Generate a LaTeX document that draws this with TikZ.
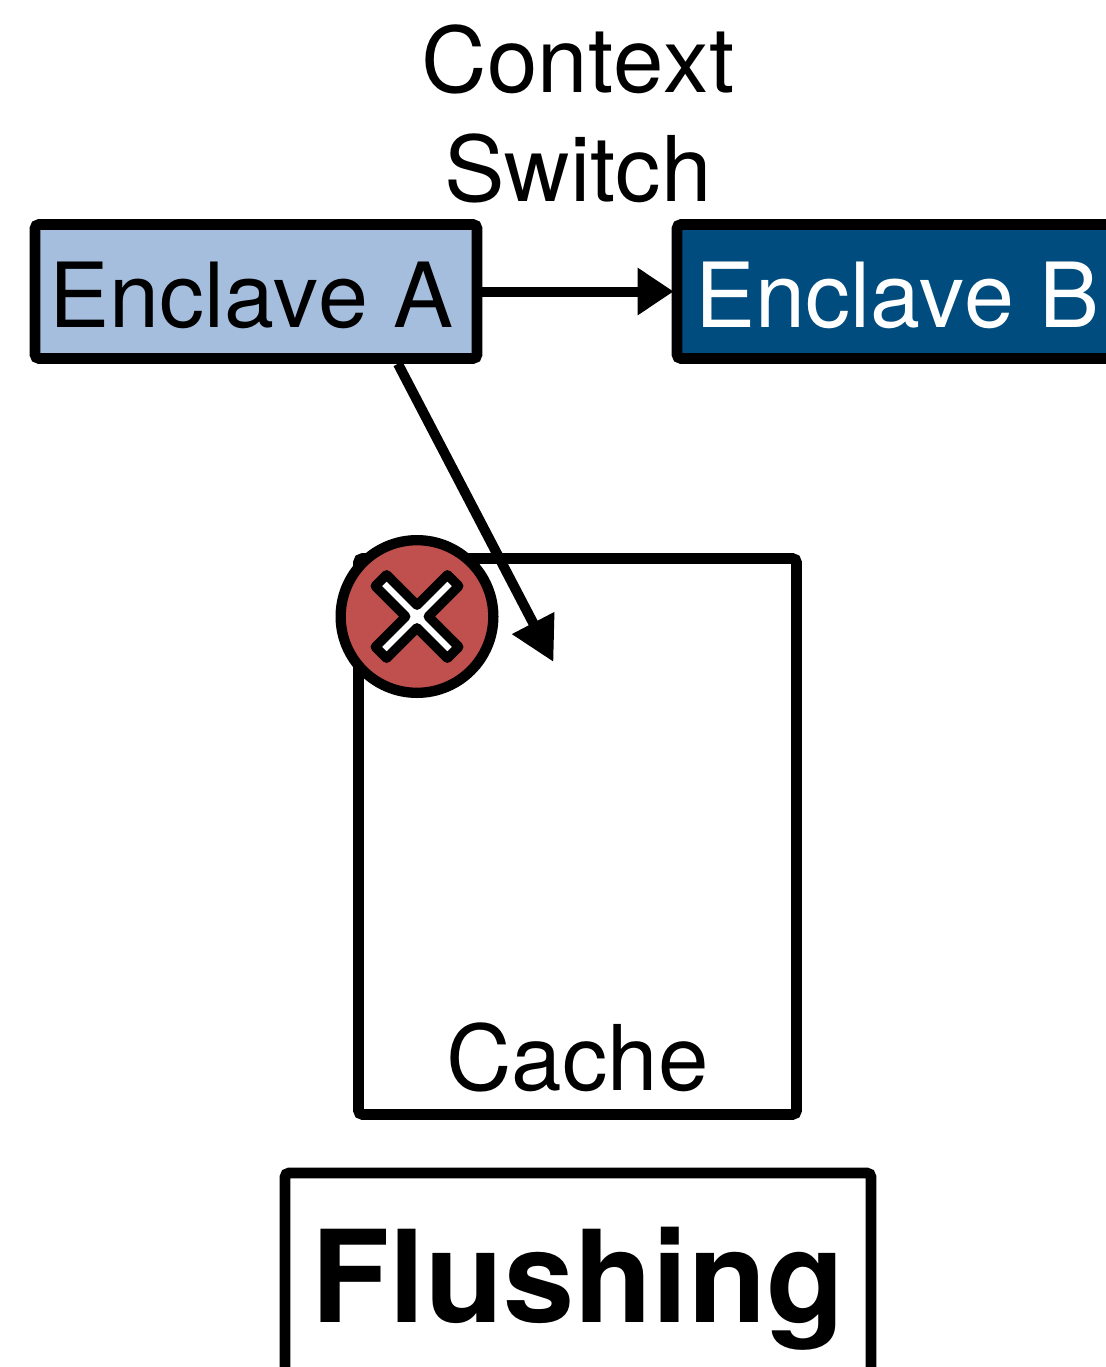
\documentclass[tikz,border=0pt]{standalone}
\usepackage{fontspec}
\setmainfont[Kerning=Off]{TeX Gyre Heros}
\usetikzlibrary{arrows.meta}
\definecolor{enclavelight}{HTML}{A6BEDD}
\definecolor{enclavedark}{HTML}{004C7F}
\definecolor{markred}{HTML}{C0504D}

\begin{document}
\begin{tikzpicture}[
  x=0.75pt, y=-0.75pt,
  every node/.style={align=center, inner sep=0pt, font=\fontsize{68}{81.75}\selectfont},
  box/.style={draw, line width=8pt, rounded corners=3pt},
  enclave/.style={box, minimum width=331.5pt, minimum height=100.5pt},
  enclavetext/.style={font=\fontsize{67.4}{81.75}\selectfont},
  link/.style={line width=7.5pt}
]
\clip (0,0) rectangle (1106,1367);
\node[box, minimum width=328.5pt, minimum height=417pt] (cache) at (577.5,836.5) {};
\node (cachetext) at (577.5,1057) {Cache};
\node[enclave, fill=enclavelight] (encA) at (256,291.5) {};
\node[enclavetext] (encAtext) at (251.5,295) {Enclave A};
\node[enclave, fill=enclavedark] (encB) at (898,291.5) {};
\node[enclavetext, text=white] (encBtext) at (897.5,295) {Enclave B};
\node (switch) at (578,114) {Context\\Switch};
\node[box, minimum width=439.5pt, minimum height=174pt, font=\fontsize{96}{96}\selectfont\bfseries] (flush) at (578,1289) {Flushing};
\coordinate (target) at (553.5,662);
\draw[link, shorten >=-1.5pt, -{Triangle[length=27pt, width=33.75pt]}] (encA) -- (encB);
\draw[link, -{Triangle[length=33pt, width=33.75pt]}] (encA.-27.5) -- (target);
% invalid access marker
\node[draw, circle, fill=markred, line width=7.75pt, minimum size=114.5pt] (deny) at (417,616.5) {};
\draw[line width=7.1pt, line join=round, fill=white, shift={(417,616.5)}, rotate=45]
  (-8,-51) -- (8,-51) -- (8,-8) -- (51,-8) -- (51,8) -- (8,8)
  -- (8,51) -- (-8,51) -- (-8,8) -- (-51,8) -- (-51,-8) -- (-8,-8) -- cycle;
\end{tikzpicture}
\end{document}
